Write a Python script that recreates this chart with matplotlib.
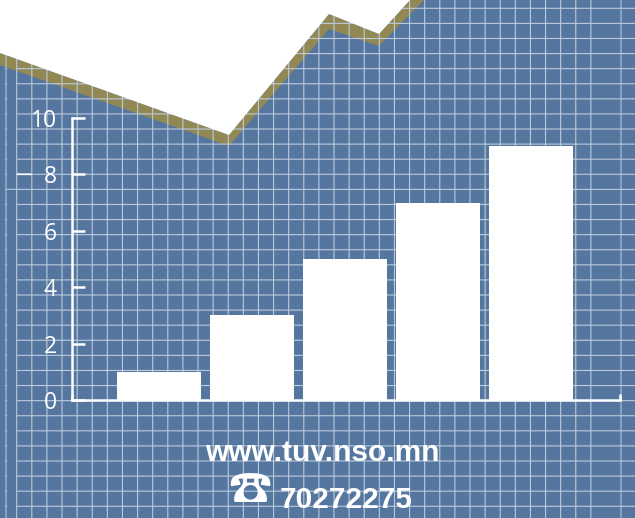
import numpy as np
import matplotlib
matplotlib.use('Agg')
import matplotlib.pyplot as plt

# bar chart values
categories = [0, 1, 2, 3, 4]
values = [1, 3, 5, 7, 9]
y_ticks = [0, 2, 4, 6, 8, 10]

# background decoration, in image pixels
band_top_x = [0, 229, 329, 379, 410]
band_top_y = [53, 135, 14, 34, 0]
band_bottom_x = [424, 379, 329, 229, 0]
band_bottom_y = [0, 46, 29, 146, 65]

BLUE = '#54769f'
OLIVE = '#928853'
GRID = '#bccadd'
WIDTH, HEIGHT = 635, 518

plt.rcParams['font.family'] = ['Open Sans', 'DejaVu Sans']

fig = plt.figure(figsize=(WIDTH / 100, HEIGHT / 100), dpi=100, facecolor=BLUE)

# full figure axes for the paper background, y runs down like the image
bg = fig.add_axes([0, 0, 1, 1])
bg.set_xlim(0, WIDTH)
bg.set_ylim(HEIGHT, 0)
bg.axis('off')

grid_x = 16.7 + 15.11 * np.arange(39)
grid_y = 8.3 + 15.09 * np.arange(34)
# no snapping, so lines blur where they fall between pixels like the scaled original
bg.vlines(grid_x, 0, HEIGHT, color=GRID, lw=0.8, zorder=2, snap=False)
bg.hlines(grid_y, 16.7, WIDTH, color=GRID, lw=0.8, zorder=2, snap=False)

# the two wider faint lines at the edges
bg.vlines([6, 621], 0, HEIGHT, color=GRID, lw=1.5, alpha=0.5, zorder=2, snap=False)
bg.hlines(grid_y, 4.5, 7.5, color=GRID, lw=0.8, alpha=0.5, zorder=2, snap=False)
bg.hlines(174.3, 16.7, 31.7, color='white', lw=1.2, zorder=2, snap=False)
bg.hlines(189.3, 7, 16.7, color=GRID, lw=0.8, zorder=2, snap=False)

bg.fill(band_top_x + band_bottom_x, band_top_y + band_bottom_y, color=OLIVE, lw=0, zorder=1)
bg.fill(band_top_x + [WIDTH, WIDTH, 0], band_top_y + [0, 0, 0], color='white', lw=0, zorder=3)

# the chart itself
ax = fig.add_axes([72 / WIDTH, (HEIGHT - 400) / HEIGHT, 548 / WIDTH, 282 / HEIGHT])
ax.patch.set_alpha(0)
ax.bar(categories, values, width=0.905, color='white')
ax.set_xlim(-0.9375, 4.96)
ax.set_ylim(0, 10)
ax.set_xticks(ax.get_xlim())
ax.set_xticklabels([])
ax.set_yticks(y_ticks)
ax.tick_params(axis='y', direction='in', length=9.5, width=1.8, color='white',
               labelcolor='white', labelsize=16.5, pad=11)
ax.tick_params(axis='x', direction='in', length=4.5, width=1.8, color='white')
for side in ['top', 'right']:
    ax.spines[side].set_visible(False)
for side in ['left', 'bottom']:
    ax.spines[side].set_color('white')
    ax.spines[side].set_linewidth(1.8)

# footer
bg.text(322, 453, 'www.tuv.nso.mn', color='white', fontsize=21.5, fontweight='bold',
        family='Liberation Sans', ha='center', va='center', zorder=5)
bg.text(346.5, 500, '70272275', color='white', fontsize=21.5, fontweight='bold',
        family='Liberation Sans', ha='center', va='center', zorder=5)
bg.text(250, 491.5, '\u260e', color='white', fontsize=31, family=['Noto Sans CJK JP', 'DejaVu Sans'],
        ha='center', va='center', zorder=5)

fig.savefig('out.png', dpi=100, facecolor=BLUE)
